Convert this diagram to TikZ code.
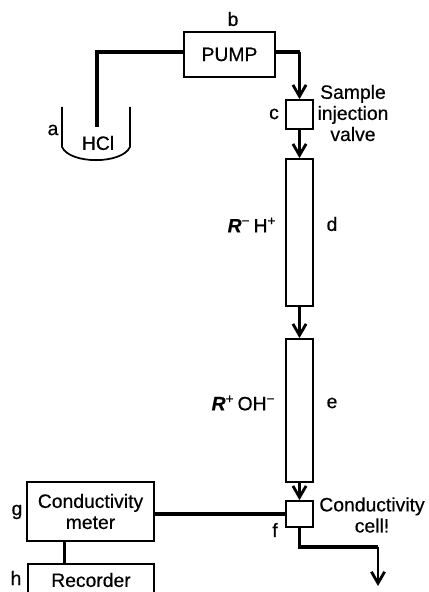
\documentclass[tikz,border=0pt]{standalone}
\usepackage{fontspec}
\setmainfont{Liberation Sans}[RawFeature={embolden=0.5}]
\usetikzlibrary{arrows.meta}
\tikzset{
    unitbox/.style={draw, line width=1pt, inner sep=0pt},
    pipe/.style={line width=2pt},
    flow/.style={line width=1.6pt, -{Straight Barb[length=6.5pt,width=7.5pt]}},
    lbl/.style={inner sep=0pt, font=\fontsize{11}{12}\selectfont, align=center}
}
\begin{document}
\begin{tikzpicture}
\useasboundingbox (0,0) rectangle (8.58,11.84);
\clip (0,0) rectangle (8.58,11.84);
% pump and beaker
\node[unitbox, minimum width=1.82cm, minimum height=0.9cm, lbl] (pump) at (4.59,10.75) {PUMP};
\draw[line width=1pt] (1.24,9.70) -- (1.24,8.90) .. controls (1.40,8.55) and (2.44,8.55) .. (2.60,8.90) -- (2.60,9.70);
\coordinate (dip) at (1.94,9.30);
\coordinate (bend) at (1.94,10.80);
\coordinate (outr) at (5.99,10.80);
\draw[pipe] (pump.west |- bend) -- (bend) -- (dip);
\node[lbl] (hcl) at (1.96,8.98) {HCl};
\node[lbl] (a) at (1.06,9.24) {a};
\node[lbl] (b) at (4.66,11.46) {b};
% valve and columns
\node[unitbox, minimum width=0.54cm, minimum height=0.58cm] (c) at (5.99,9.55) {};
\node[unitbox, minimum width=0.54cm, minimum height=2.94cm] (d) at (5.99,7.19) {};
\node[unitbox, minimum width=0.54cm, minimum height=2.86cm] (e) at (5.99,3.63) {};
\node[unitbox, minimum width=0.54cm, minimum height=0.52cm] (f) at (5.99,1.56) {};
\draw[pipe] (pump.east |- outr) -- (outr);
\draw[flow] (outr) -- (c.north);
\draw[flow] (c.south) -- (d.north);
\draw[flow] (d.south) -- (e.north);
\draw[flow] (e.south) -- (f.north);
\coordinate (drain) at (5.99,0.90);
\coordinate (drainr) at (7.56,0.90);
\coordinate (outlet) at (7.56,0.12);
\draw[pipe] (f.south) -- (drain) -- (drainr);
\draw[flow] (drainr) -- (outlet);
\node[lbl] (clab) at (5.48,9.56) {c};
\node[lbl] (dlab) at (6.64,7.36) {d};
\node[lbl] (elab) at (6.64,3.78) {e};
\node[lbl] (flab) at (5.50,1.24) {f};
\node[lbl] (res1) at (5.04,7.34) {\textbf{\textit{R}}\textsuperscript{−}\,H\textsuperscript{+}};
\node[lbl] (res2) at (4.87,3.78) {\textbf{\textit{R}}\textsuperscript{+}\,OH\textsuperscript{−}};
\node[lbl] (inj) at (7.06,9.58) {Sample\\injection\\valve};
\node[lbl] (cell) at (7.44,1.54) {Conductivity\\cell!};
% meter and recorder
\node[unitbox, minimum width=2.54cm, minimum height=1.18cm, lbl] (g) at (1.81,1.61) {Conductivity\\meter};
\node[unitbox, minimum width=2.52cm, minimum height=0.74cm, anchor=north] (h) at (1.82,0.58) {};
\node[lbl] (rec) at (1.82,0.24) {Recorder};
\node[lbl] (glab) at (0.34,1.60) {g};
\node[lbl] (hlab) at (0.32,0.28) {h};
\draw[pipe] (g.east |- f) -- (f.west);
\draw[pipe] (g.south -| rec.west) ++(0.27,0) -- ++(0,-0.44);
\end{tikzpicture}
\end{document}
